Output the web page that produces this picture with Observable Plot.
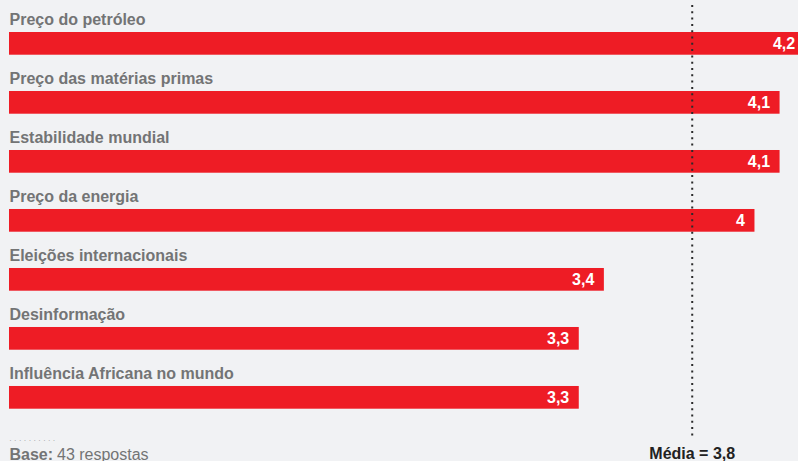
<!DOCTYPE html>
<html>
<head>
<meta charset="utf-8">
<script src="https://cdn.jsdelivr.net/npm/d3@7"></script>
<script src="https://cdn.jsdelivr.net/npm/@observablehq/plot@0.6"></script>
<style>
  html, body { margin: 0; padding: 0; background: #f1f2f4; overflow: hidden; }
  #chart svg { display: block; background: #f1f2f4; font-family: "Liberation Sans", Arial, Helvetica, sans-serif; }
</style>
</head>
<body>
<div id="chart"></div>
<script>
// Data
const categorias = [
  "Preço do petróleo",
  "Preço das matérias primas",
  "Estabilidade mundial",
  "Preço da energia",
  "Eleições internacionais",
  "Desinformação",
  "Influência Africana no mundo"
];
const valores = [4.2, 4.1, 4.1, 4.0, 3.4, 3.3, 3.3];
const rotulosValor = ["4,2", "4,1", "4,1", "4", "3,4", "3,3", "3,3"];
const mediaLinha = 3.75;
const mediaTexto = "Média = 3,8";
const baseTitulo = "Base:";
const baseTexto = "43 respostas";
const pontilhado = "..........";

const data = categorias.map((c, i) => ({categoria: c, valor: valores[i], rotulo: rotulosValor[i]}));

const W = 798, H = 461;
const red = "#ee1c25";
const gray = "#737475";
const x0 = 1.03;

const plot = Plot.plot({
  width: W,
  height: H,
  marginLeft: 9,
  marginRight: 0,
  marginTop: 5,
  marginBottom: 24,
  style: {background: "#f1f2f4", overflow: "hidden"},
  x: {domain: [x0, x0 + 789 / 251], axis: null},
  y: {domain: categorias, range: [32, 408.7], paddingInner: 0.615, paddingOuter: 0, round: false, axis: null},
  marks: [
    Plot.barX(data, {x1: x0, x2: "valor", y: "categoria", fill: red, clip: true}),
    Plot.text(data, {
      x: x0, y: "categoria", text: "categoria", textAnchor: "start",
      lineAnchor: "bottom", dy: -19.3, fill: gray, fontWeight: "bold", fontSize: 16
    }),
    Plot.text(data, {
      x: "valor", y: "categoria", text: "rotulo", textAnchor: "end",
      dx: -10, fill: "white", fontWeight: "bold", fontSize: 16
    }),
    Plot.ruleX([mediaLinha], {stroke: "#2b2b2b", strokeWidth: 2, strokeDasharray: "2,4.3"}),
    Plot.text([mediaTexto], {
      x: mediaLinha, frameAnchor: "bottom", text: d => d, lineAnchor: "bottom",
      dy: 21, fill: "#222", fontWeight: "bold", fontSize: 16, textAnchor: "middle"
    }),
    Plot.text([baseTitulo], {
      frameAnchor: "bottom-left", text: d => d, lineAnchor: "bottom",
      dy: 22, fill: gray, fontWeight: "bold", fontSize: 16, textAnchor: "start"
    }),
    Plot.text([baseTexto], {
      frameAnchor: "bottom-left", text: d => d, lineAnchor: "bottom",
      dx: 47.5, dy: 22, fill: gray, fontSize: 16, textAnchor: "start"
    }),
    Plot.text([pontilhado], {
      frameAnchor: "bottom-left", text: d => d, lineAnchor: "bottom",
      dy: 3.5, fill: "#8a8b8c", fontSize: 7, textAnchor: "start"
    })
  ]
});
d3.select(plot).selectAll("text").filter(function() { return this.textContent === pontilhado; })
  .attr("letter-spacing", "2.9px");
document.getElementById("chart").appendChild(plot);
</script>
</body>
</html>
